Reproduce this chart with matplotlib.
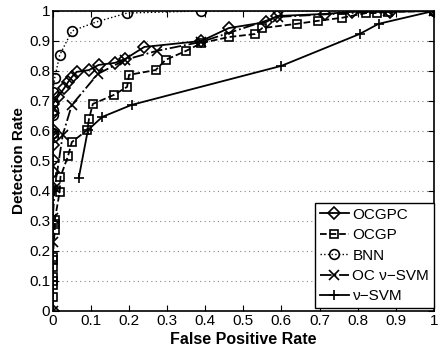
import matplotlib
matplotlib.use("Agg")
import matplotlib.pyplot as plt
import numpy as np

plt.rcParams['font.family'] = ['Liberation Sans', 'DejaVu Sans']

# OCGPC (diamond, solid)
ocgpc_x = [0, 0, 0, 0, 0, 0, 0, 0, 0, 0.013, 0.03, 0.04, 0.05, 0.063, 0.095, 0.12,
           0.163, 0.19, 0.24, 0.39, 0.462, 0.56, 0.588, 0.714, 0.785, 0.885, 1.0]
ocgpc_y = [0, 0.41, 0.463, 0.503, 0.553, 0.59, 0.603, 0.66, 0.69, 0.713, 0.743, 0.763,
           0.78, 0.797, 0.803, 0.82, 0.827, 0.84, 0.88, 0.9, 0.943, 0.963, 0.983,
           0.99, 0.997, 0.997, 1.0]

# OCGP (square, dashed)
ocgp_x = [0, 0, 0, 0, 0, 0, 0, 0.005, 0.005, 0.005, 0.018, 0.02, 0.04, 0.05, 0.09,
          0.095, 0.105, 0.16, 0.195, 0.2, 0.27, 0.296, 0.35, 0.39, 0.462, 0.53, 0.55,
          0.64, 0.695, 0.758, 0.823, 0.85, 0.88, 1.0]
ocgp_y = [0.047, 0.087, 0.1, 0.113, 0.147, 0.17, 0.18, 0.27, 0.29, 0.303, 0.397, 0.447,
          0.517, 0.563, 0.603, 0.64, 0.69, 0.72, 0.747, 0.787, 0.803, 0.837, 0.867,
          0.893, 0.913, 0.923, 0.943, 0.957, 0.967, 0.977, 0.993, 0.993, 0.997, 1.0]

# BNN (circle, dotted)
bnn_x = [0, 0, 0, 0, 0, 0, 0.005, 0.018, 0.05, 0.113, 0.195, 0.39, 1.0]
bnn_y = [0.58, 0.593, 0.653, 0.67, 0.697, 0.73, 0.777, 0.853, 0.933, 0.963, 0.993, 1.0, 1.0]

# OC nu-SVM (x, dash-dot)
ocsvm_x = [0, 0, 0, 0.005, 0.026, 0.05, 0.118, 0.19, 0.273, 0.39, 0.59, 0.88, 1.0]
ocsvm_y = [0, 0.23, 0.31, 0.41, 0.587, 0.687, 0.79, 0.837, 0.867, 0.897, 0.98, 1.0, 1.0]

# nu-SVM (+, solid)
nusvm_x = [0.068, 0.092, 0.13, 0.207, 0.6, 0.805, 0.855, 1.0]
nusvm_y = [0.443, 0.603, 0.647, 0.687, 0.817, 0.923, 0.957, 1.0]

fig = plt.figure(figsize=(4.44, 3.53), dpi=100)
ax = fig.add_axes([0.119, 0.119, 0.858, 0.85])

lw = 1.3
ms = 7
ax.plot(ocgpc_x, ocgpc_y, '-', color='k', lw=lw, marker='D', ms=6.5, mfc='none',
        mew=1.2, label='OCGPC')
ax.plot(ocgp_x, ocgp_y, '--', color='k', lw=lw, marker='s', ms=6, mfc='none',
        mew=1.2, label='OCGP')
ax.plot(bnn_x, bnn_y, ':', color='k', lw=1.0, marker='o', ms=ms, mfc='none',
        mew=1.2, label='BNN')
ax.plot(ocsvm_x, ocsvm_y, '-.', color='k', lw=lw, marker='x', ms=ms, mfc='none',
        mew=1.2, label='OC ν−SVM')
ax.plot(nusvm_x, nusvm_y, '-', color='k', lw=lw, marker='+', ms=ms, mfc='none',
        mew=1.2, label='ν−SVM')

ax.set_xlim(0, 1)
ax.set_ylim(0, 1)
ticks = np.arange(0, 1.01, 0.1)
labels = ['0'] + ['%.1f' % t for t in ticks[1:-1]] + ['1']
ax.set_xticks(ticks)
ax.set_xticklabels(labels)
ax.set_yticks(ticks)
ax.set_yticklabels(labels)
ax.tick_params(direction='in', top=True, right=True, labelsize=11, length=4, pad=2)
ax.yaxis.grid(True, linestyle=(0, (1, 3)), color='#888888', lw=0.8)
for s in ax.spines.values():
    s.set_linewidth(1.2)

ax.set_xlabel('False Positive Rate', fontsize=11.5, fontweight='bold', labelpad=3)
ax.set_ylabel('Detection Rate', fontsize=11, fontweight='bold', labelpad=2)

leg = ax.legend(loc='lower right', fontsize=11, handlelength=1.9, handletextpad=0.25,
                borderaxespad=0.0, fancybox=False, edgecolor='k', framealpha=1,
                labelspacing=0.42, borderpad=0.3, bbox_to_anchor=(1.0, 0.01))
leg.get_frame().set_linewidth(1.0)

fig.savefig('out.png', dpi=100)
